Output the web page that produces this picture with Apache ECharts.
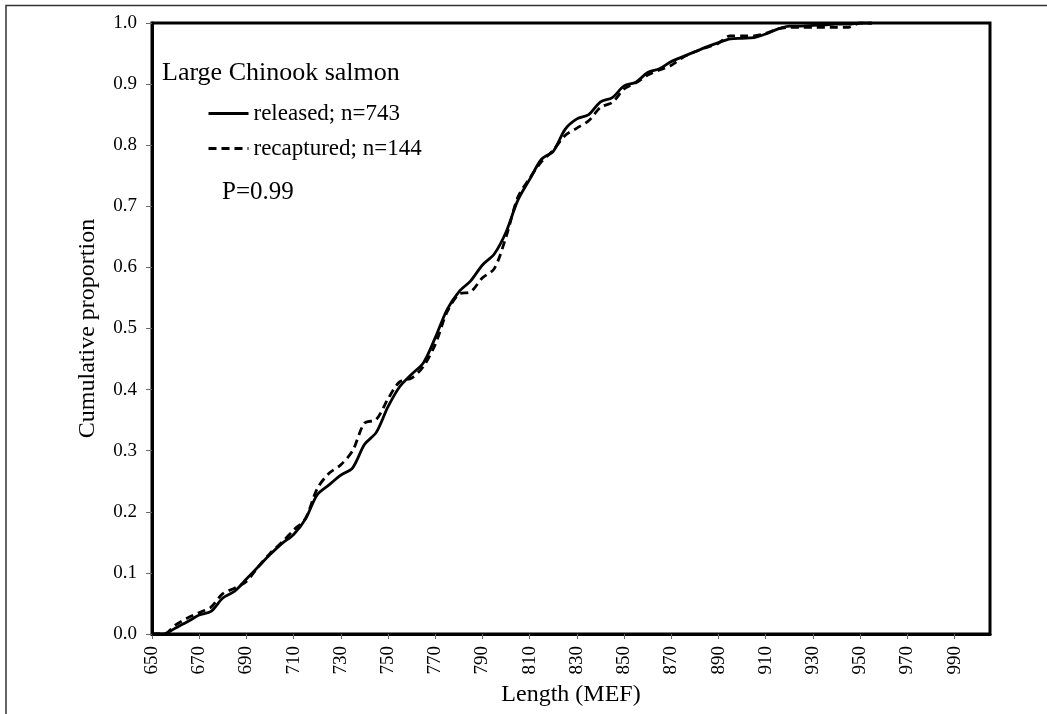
<!DOCTYPE html>
<html>
<head>
<meta charset="utf-8">
<script src="https://cdn.jsdelivr.net/npm/echarts@6/dist/echarts.min.js"></script>
<style>
html,body{margin:0;padding:0;background:#fff;}
#chart{width:1047px;height:714px;}
</style>
</head>
<body>
<div id="chart"></div>
<script>
const lengths = [650,655,660,665,670,675,680,685,690,695,700,705,710,715,720,725,730,735,740,745,750,755,760,765,770,775,780,785,790,795,800,805,810,815,820,825,830,835,840,845,850,855,860,865,870,875,880,885,890,895,900,905,910,915,920,925,930,935,940,945,950,955];
const released = [0,0,0.010,0.020,0.031,0.037,0.059,0.070,0.090,0.110,0.130,0.148,0.163,0.188,0.228,0.244,0.260,0.272,0.310,0.330,0.372,0.405,0.425,0.444,0.485,0.531,0.560,0.578,0.604,0.622,0.658,0.710,0.744,0.777,0.790,0.826,0.843,0.850,0.871,0.878,0.897,0.903,0.919,0.925,0.937,0.945,0.953,0.961,0.968,0.974,0.975,0.976,0.982,0.990,0.995,0.995,0.996,0.997,0.998,0.998,1.0,1.0];
const recaptured = [0,0,0.015,0.026,0.035,0.044,0.066,0.075,0.086,0.110,0.132,0.150,0.170,0.189,0.238,0.263,0.277,0.300,0.345,0.351,0.385,0.413,0.419,0.438,0.474,0.527,0.556,0.560,0.583,0.598,0.650,0.715,0.746,0.773,0.792,0.816,0.828,0.840,0.862,0.870,0.892,0.902,0.915,0.923,0.931,0.944,0.953,0.960,0.967,0.979,0.979,0.979,0.983,0.990,0.993,0.993,0.993,0.993,0.993,0.993,1.0,1.0];
const xTicks = [650,670,690,710,730,750,770,790,810,830,850,870,890,910,930,950,970,990];
const seriesNames = ['released; n=743','recaptured; n=144'];
const chartTitle = 'Large Chinook salmon';
const pText = 'P=0.99';

const FONT = '"Liberation Serif", "Times New Roman", serif';
const chart = echarts.init(document.getElementById('chart'), null, {renderer:'canvas'});
const toPairs = arr => lengths.map((x,i)=>[x,arr[i]]);

chart.setOption({
  animation:false,
  backgroundColor:'#fff',
  textStyle:{fontFamily:FONT,color:'#000'},
  title:[
    {text:chartTitle,left:162,top:60,padding:0,textStyle:{fontFamily:FONT,fontSize:26,fontWeight:'normal',color:'#000'}},
    {text:pText,left:222,top:180,padding:0,textStyle:{fontFamily:FONT,fontSize:25,fontWeight:'normal',color:'#000'}}
  ],
  legend:{
    orient:'vertical',left:207,top:102,padding:0,
    itemWidth:40,itemHeight:23,itemGap:12,
    itemStyle:{opacity:0},
    lineStyle:{width:3},
    textStyle:{fontFamily:FONT,fontSize:23,color:'#000'},
    data:seriesNames
  },
  grid:{left:152,right:57,top:23,bottom:80,show:true,borderColor:'#000',borderWidth:3,containLabel:false},
  xAxis:{
    type:'value',min:650,max:1005,
    name:'Length (MEF)',nameLocation:'middle',nameGap:46,
    nameTextStyle:{fontFamily:FONT,fontSize:24,color:'#000'},
    axisLine:{show:true,onZero:false,lineStyle:{color:'#000',width:3}},
    axisTick:{show:true,customValues:xTicks,length:5,lineStyle:{color:'#666',width:1}},
    axisLabel:{customValues:xTicks,rotate:90,fontSize:19,margin:12,color:'#000',fontFamily:FONT},
    splitLine:{show:false}
  },
  yAxis:{
    type:'value',min:0,max:1,interval:0.1,
    name:'Cumulative proportion',nameLocation:'middle',nameGap:52,
    nameTextStyle:{fontFamily:FONT,fontSize:24,color:'#000'},
    axisLine:{show:true,lineStyle:{color:'#000',width:3}},
    axisTick:{show:true,length:6,lineStyle:{color:'#666',width:1}},
    axisLabel:{fontSize:19,margin:15,color:'#000',fontFamily:FONT,formatter:v=>v.toFixed(1)},
    splitLine:{show:false}
  },
  graphic:[
    {type:'polyline',silent:true,shape:{points:[[6,714],[6,5.5],[1047,5.5]]},style:{stroke:'#333',lineWidth:1.5,fill:null}}
  ],
  series:[
    {name:seriesNames[0],type:'line',data:toPairs(released),symbol:'none',smooth:0.3,
     lineStyle:{color:'#000',width:2.8,type:'solid'},itemStyle:{color:'#000'}},
    {name:seriesNames[1],type:'line',data:toPairs(recaptured),symbol:'none',smooth:0.3,
     lineStyle:{color:'#000',width:2.8,type:[8,5]},itemStyle:{color:'#000'}}
  ]
});
</script>
</body>
</html>
